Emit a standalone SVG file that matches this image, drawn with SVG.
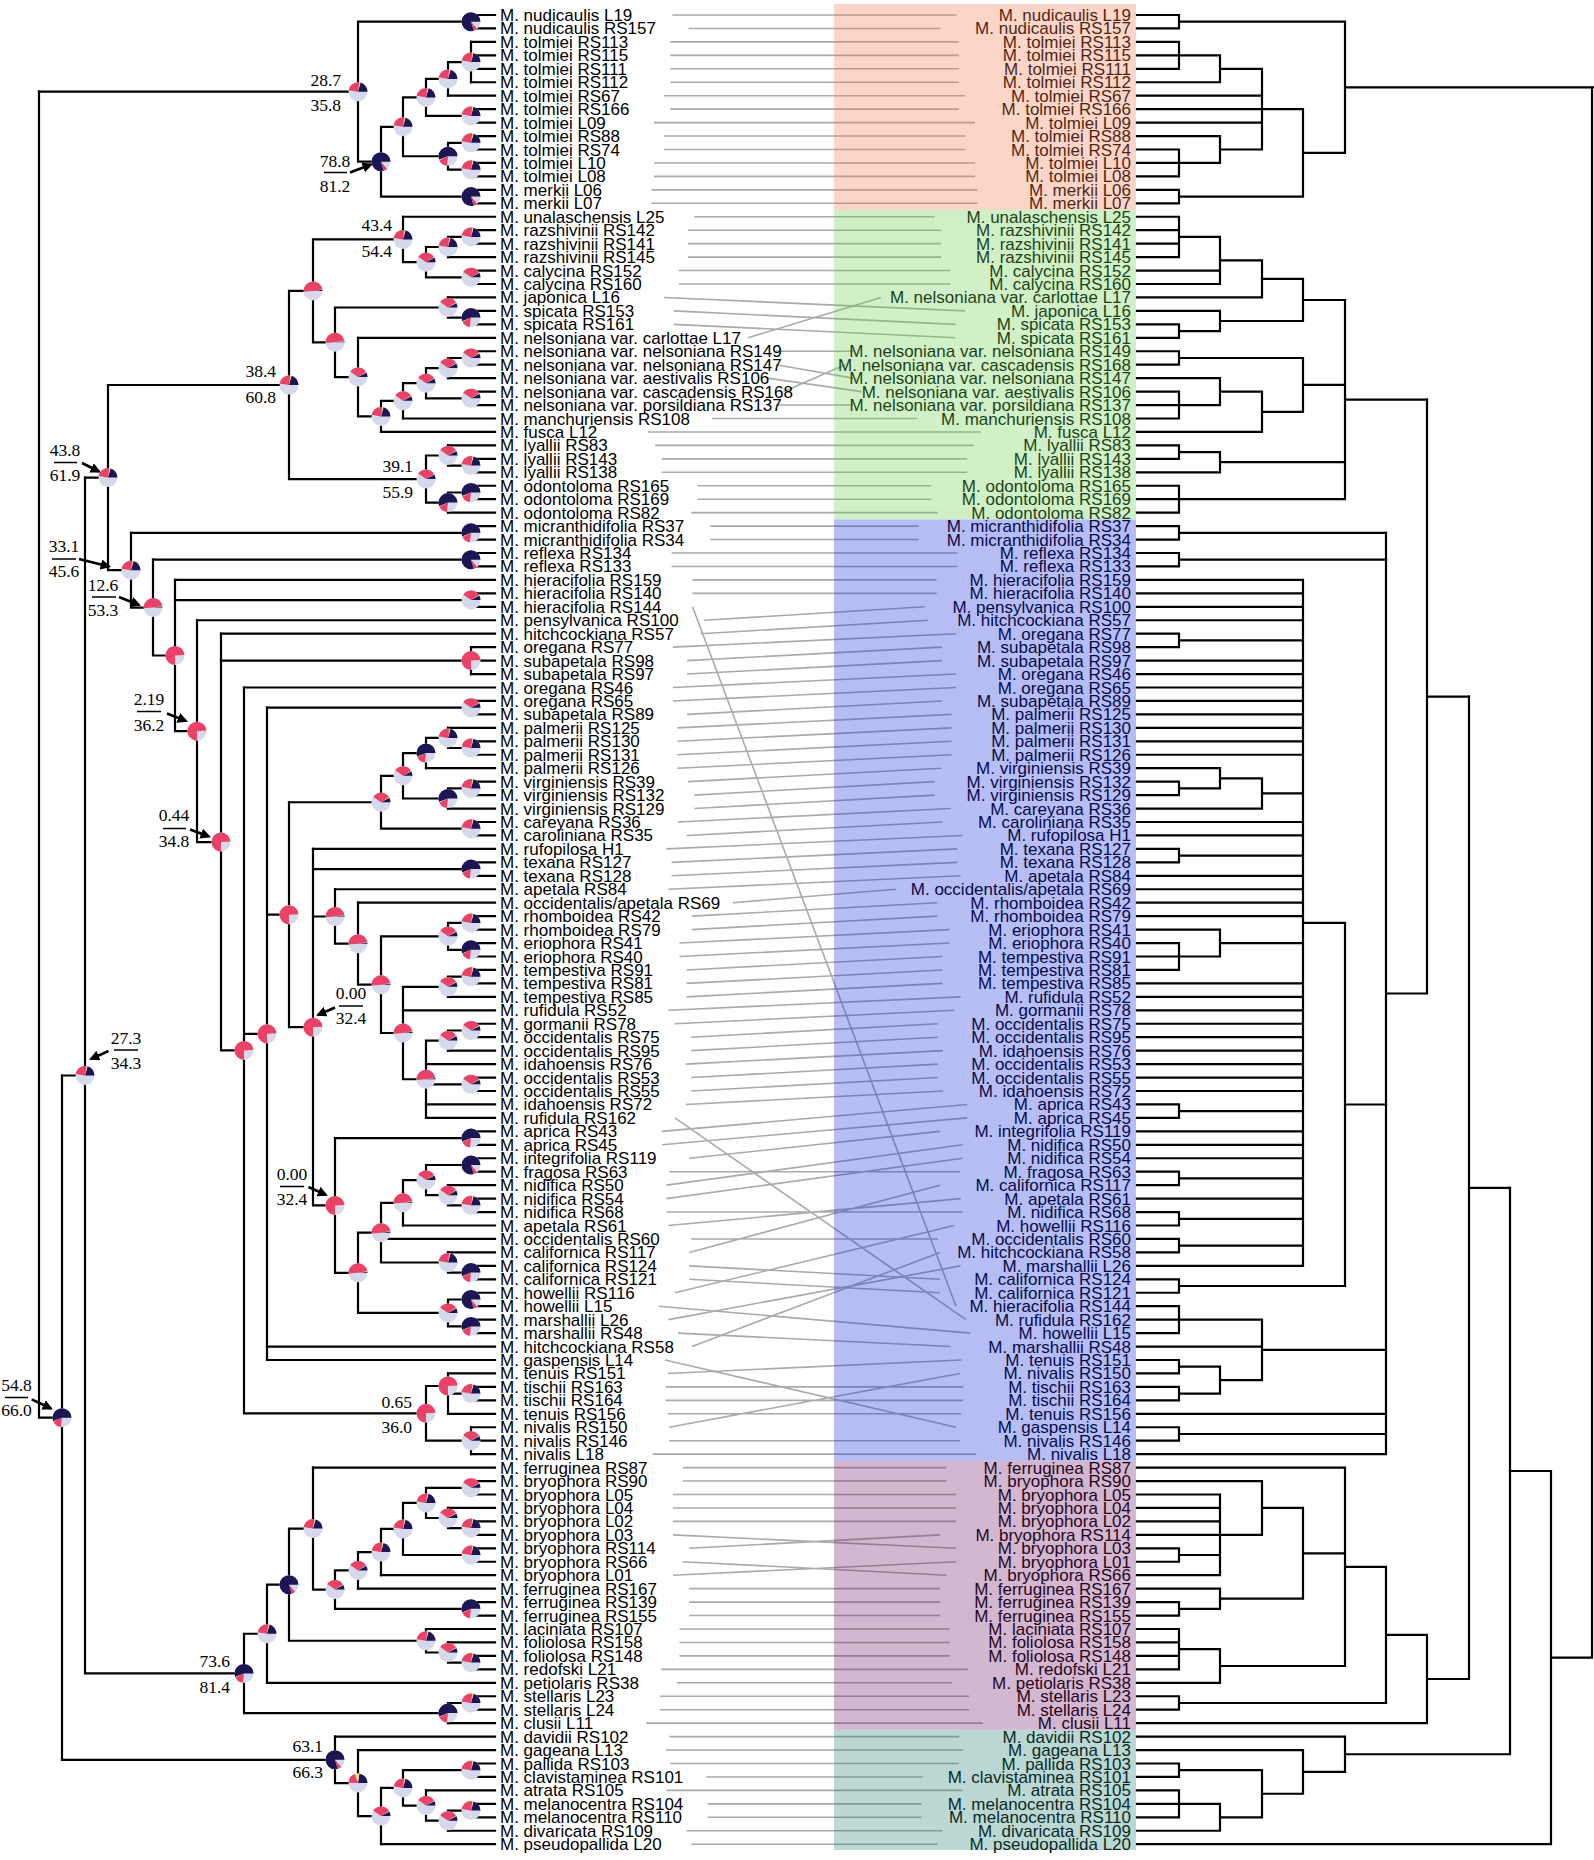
<svg xmlns="http://www.w3.org/2000/svg" width="1594" height="1860" viewBox="0 0 1594 1860">
<style>
.lb text{font-family:'Liberation Sans',Arial,sans-serif;font-size:17px;fill:#000}
.rl text{text-anchor:end}
.nm text{font-family:'Liberation Serif','Times New Roman',serif;font-size:17.5px;fill:#000}
.nc{text-anchor:middle}
.ne{text-anchor:end}
.br{fill:none;stroke:#000;stroke-width:2.2;stroke-linecap:square}
.cn{fill:none;stroke:#aaa;stroke-width:1.6}
.ar{fill:none;stroke:#000;stroke-width:2.6}
.bar{stroke:#000;stroke-width:1.3}
.lv{fill:#d6d9eb}
.sn{fill:none;stroke:#1d1654;stroke-width:9.5}
.sy{fill:none;stroke:#efe07a;stroke-width:9.5}
.sp{fill:none;stroke:#ea4167;stroke-width:9.5}
</style>
<defs>
<marker id="ah" viewBox="0 0 10 10" refX="8" refY="5" markerWidth="4" markerHeight="4" orient="auto"><path d="M0 0L10 5L0 10z" fill="#000"/></marker>
<g id="pN"><circle r="9.5" class="lv"/><g transform="scale(1,-1)"><circle r="4.75" class="sn" stroke-dasharray="23.28 30"/><circle r="4.75" class="sp" stroke-dasharray="0 23.28 1.79 30"/></g></g>
<g id="pN2"><circle r="9.5" class="lv"/><g transform="scale(1,-1)"><circle r="4.75" class="sn" stroke-dasharray="16.41 30"/><circle r="4.75" class="sy" stroke-dasharray="0 16.41 0.3 30"/><circle r="4.75" class="sp" stroke-dasharray="0 16.71 4.48 30"/></g></g>
<g id="pM"><circle r="9.5" class="lv"/><g transform="scale(1,-1)"><circle r="4.75" class="sn" stroke-dasharray="5.97 30"/><circle r="4.75" class="sy" stroke-dasharray="0 5.97 0.6 30"/><circle r="4.75" class="sp" stroke-dasharray="0 6.57 7.16 30"/></g></g>
<g id="pL"><circle r="9.5" class="lv"/><g transform="scale(1,-1)"><circle r="4.75" class="sn" stroke-dasharray="2.39 30"/><circle r="4.75" class="sy" stroke-dasharray="0 2.39 0.3 30"/><circle r="4.75" class="sp" stroke-dasharray="0 2.69 8.95 30"/></g></g>
<g id="pP"><circle r="9.5" class="lv"/><g transform="scale(1,-1)"><circle r="4.75" class="sn" stroke-dasharray="0.6 30"/><circle r="4.75" class="sy" stroke-dasharray="0 0.6 0.3 30"/><circle r="4.75" class="sp" stroke-dasharray="0 0.9 14.03 30"/></g></g>
<g id="pPP"><circle r="9.5" class="lv"/><g transform="scale(1,-1)"><circle r="4.75" class="sy" stroke-dasharray="0.3 30"/><circle r="4.75" class="sp" stroke-dasharray="0 0.3 21.49 30"/></g></g>
<g id="pMy"><circle r="9.5" class="lv"/><g transform="scale(1,-1)"><circle r="4.75" class="sn" stroke-dasharray="6.57 30"/><circle r="4.75" class="sy" stroke-dasharray="0 6.57 2.39 30"/><circle r="4.75" class="sp" stroke-dasharray="0 8.96 5.37 30"/></g></g>
</defs>
<rect width="1594" height="1860" fill="#fff"/>

<g id="connectors" class="cn">
<path d="M672.3 15L956.7 15M688.6 28.45L940.4 28.45M670.3 41.9L958.7 41.9M670.3 55.35L958.7 55.35M670.3 68.8L958.7 68.8M670.3 82.25L958.7 82.25M663.8 95.7L965.2 95.7M670.3 109.15L958.7 109.15M654 122.6L975 122.6M663.8 136.05L965.2 136.05M663.8 149.5L965.2 149.5M654 162.95L975 162.95M654 176.4L975 176.4M651.4 189.85L977.6 189.85M651.4 203.3L977.6 203.3M694.4 216.75L934.6 216.75M687.9 230.2L941.1 230.2M687.9 243.65L941.1 243.65M687.9 257.1L941.1 257.1M678.8 270.55L950.2 270.55M678.8 284L950.2 284M663.8 297.45L965.2 310.9M673.6 310.9L955.4 324.35M673.6 324.35L955.4 337.8M747.9 337.8L881.1 297.45M775.9 351.25L853.1 351.25M775.9 364.7L853.1 378.15M767.4 378.15L861.6 391.6M783.7 391.6L845.3 364.7M775.9 405.05L853.1 405.05M712 418.5L917 418.5M648.1 431.95L980.9 431.95M655.3 445.4L973.7 445.4M661.8 458.85L967.2 458.85M661.8 472.3L967.2 472.3M697.7 485.75L931.3 485.75M697.7 499.2L931.3 499.2M691.2 512.65L937.8 512.65"/>
<path d="M710.4 526.1L918.6 526.1M710.4 539.55L918.6 539.55M671.6 553L957.4 553M671.6 566.45L957.4 566.45M692.5 579.9L936.5 579.9M692.5 593.35L936.5 593.35M692.5 606.8L956 1306.2M704.2 620.25L924.8 606.8M700.9 633.7L928.1 620.25M672.9 647.15L956.1 633.7M687.1 660.6L941.9 647.15M687.1 674.05L941.9 660.6M672.9 687.5L956.1 674.05M672.9 700.95L956.1 687.5M687.1 714.4L941.9 700.95M677.5 727.85L951.5 714.4M677.5 741.3L951.5 727.85M677.5 754.75L951.5 741.3M677.5 768.2L951.5 754.75M687.9 781.65L941.1 768.2M694.4 795.1L934.6 781.65M694.4 808.55L934.6 795.1M678.2 822L950.8 808.55M686.6 835.45L942.4 822M666.4 848.9L962.6 835.45M671.6 862.35L957.4 848.9M671.6 875.8L957.4 862.35M668.4 889.25L960.6 875.8M732.9 902.7L896.1 889.25M691.8 916.15L937.2 902.7M691.8 929.6L937.2 916.15M679.5 943.05L949.5 929.6M679.5 956.5L949.5 943.05M686.6 969.95L942.4 956.5M686.6 983.4L942.4 969.95M686.6 996.85L942.4 983.4M668.4 1010.3L960.6 996.85M674.8 1023.75L954.2 1010.3M691.2 1037.2L937.8 1023.75M691.2 1050.65L937.8 1037.2M685.9 1064.1L943 1050.65M691.2 1077.55L937.8 1064.1M691.2 1091L937.8 1077.55M685.9 1104.45L943 1091M674.9 1117.9L966 1319.65M661.8 1131.35L967.2 1104.45M661.8 1144.8L967.2 1117.9M689.2 1158.25L939.8 1131.35M669 1171.7L960 1171.7M666.4 1185.15L962.6 1144.8M666.4 1198.6L962.6 1158.25M666.4 1212.05L962.6 1212.05M668.4 1225.5L960.6 1198.6M691.2 1238.95L937.8 1238.95M689.2 1252.4L939.8 1185.15M689.2 1265.85L939.8 1279.3M689.2 1279.3L939.8 1292.75M674.8 1292.75L954.2 1225.5M658.6 1306.2L970.4 1333.1M668.5 1319.65L960.5 1265.85M678.2 1333.1L950.8 1346.55M692 1346.55L940 1252.4M665 1360L956.1 1427.25M667.7 1373.45L961.3 1360M665.7 1386.9L963.3 1386.9M665.7 1400.35L963.3 1400.35M667.7 1413.8L961.3 1413.8M669 1427.25L960 1373.45M669 1440.7L960 1440.7M652.7 1454.15L976.3 1454.15"/>
<path d="M682.7 1467.6L946.3 1467.6M682.7 1481.05L946.3 1481.05M672.9 1494.5L956.1 1494.5M672.9 1507.95L956.1 1507.95M672.9 1521.4L956.1 1521.4M672.9 1534.85L956.1 1548.3M689.2 1548.3L939.8 1534.85M682.7 1561.75L946.3 1575.2M672.9 1575.2L956.1 1561.75M689.2 1588.65L939.8 1588.65M689.2 1602.1L939.8 1602.1M689.2 1615.55L939.8 1615.55M679.5 1629L949.5 1629M679.5 1642.45L949.5 1642.45M679.5 1655.9L949.5 1655.9M661.2 1669.35L967.8 1669.35M676.8 1682.8L952.2 1682.8M659.9 1696.25L969.1 1696.25M659.9 1709.7L969.1 1709.7M646.2 1723.15L982.8 1723.15M669.7 1736.6L959.3 1736.6M665.8 1750.05L963.2 1750.05M670.3 1763.5L958.7 1763.5M706.3 1776.95L922.7 1776.95M666.4 1790.4L962.6 1790.4M707.5 1803.85L921.5 1803.85M707.5 1817.3L921.5 1817.3M686.6 1830.75L942.4 1830.75M691.2 1844.2L937.8 1844.2"/>
</g>

<g id="left-tree-branches" class="br">
<path d="M471 15H495M471 28.45H495M471 41.9H495M471 55.35H495M471 68.8H495M471 82.25H495M448 95.7H495M471 109.15H495M471 122.6H495M471 136.05H495M471 149.5H495M471 162.95H495M471 176.4H495M471 189.85H495M471 203.3H495M403 216.75H495M471 230.2H495M471 243.65H495M448 257.1H495M471 270.55H495M471 284H495M448 297.45H495M471 310.9H495M471 324.35H495M358 337.8H495M471 351.25H495M471 364.7H495M448 378.15H495M471 391.6H495M471 405.05H495M403 418.5H495M381 431.95H495M448 445.4H495M471 458.85H495M471 472.3H495M471 485.75H495M471 499.2H495M448 512.65H495M471 526.1H495M471 539.55H495M471 553H495M471 566.45H495M175 579.9H495M471 593.35H495M471 606.8H495M197 620.25H495M221 633.7H495M471 647.15H495M471 660.6H495M471 674.05H495M244 687.5H495M471 700.95H495M471 714.4H495M448 727.85H495M471 741.3H495M471 754.75H495M426 768.2H495M471 781.65H495M471 795.1H495M448 808.55H495M471 822H495M471 835.45H495M313 848.9H495M471 862.35H495M471 875.8H495M335 889.25H495M358 902.7H495M471 916.15H495M471 929.6H495M471 943.05H495M471 956.5H495M471 969.95H495M471 983.4H495M448 996.85H495M403 1010.3H495M471 1023.75H495M471 1037.2H495M448 1050.65H495M426 1064.1H495M471 1077.55H495M471 1091H495M426 1104.45H495M426 1117.9H495M471 1131.35H495M471 1144.8H495M471 1158.25H495M471 1171.7H495M448 1185.15H495M471 1198.6H495M471 1212.05H495M403 1225.5H495M381 1238.95H495M448 1252.4H495M471 1265.85H495M471 1279.3H495M471 1292.75H495M471 1306.2H495M471 1319.65H495M471 1333.1H495M267 1346.55H495M267 1360H495M448 1373.45H495M471 1386.9H495M471 1400.35H495M448 1413.8H495M471 1427.25H495M471 1440.7H495M471 1454.15H495M313 1467.6H495M471 1481.05H495M471 1494.5H495M448 1507.95H495M471 1521.4H495M471 1534.85H495M471 1548.3H495M471 1561.75H495M381 1575.2H495M358 1588.65H495M471 1602.1H495M471 1615.55H495M426 1629H495M448 1642.45H495M471 1655.9H495M471 1669.35H495M267 1682.8H495M471 1696.25H495M471 1709.7H495M448 1723.15H495M335 1736.6H495M358 1750.05H495M471 1763.5H495M471 1776.95H495M426 1790.4H495M471 1803.85H495M471 1817.3H495M448 1830.75H495M381 1844.2H495"/>
<path d="M471 15V28.45M358 21.7H471M471 41.9V82.25M448 62.1H471M448 62.1V95.7M426 78.9H448M471 109.15V122.6M426 115.9H471M426 78.9V115.9M403 97.4H426M471 136.05V149.5M448 142.8H471M471 162.95V176.4M448 169.7H471M448 142.8V169.7M403 156.25H448M403 97.4V156.25M381 126.8H403M471 189.85V203.3M381 196.6H471M381 126.8V196.6M358 161.7H381M358 21.7V161.7M39 91.7H358"/>
<path d="M471 230.2V243.65M448 236.9H471M448 236.9V257.1M426 247H448M471 270.55V284M426 277.3H471M426 247V277.3M403 262.15H426M403 216.75V262.15M313 239.45H403M471 310.9V324.35M448 317.6H471M448 297.45V317.6M335 307.5H448M471 351.25V364.7M448 358H471M448 358V378.15M426 368.1H448M471 391.6V405.05M426 398.3H471M426 368.1V398.3M403 383.2H426M403 383.2V418.5M381 400.85H403M381 400.85V431.95M358 416.4H381M358 337.8V416.4M335 377.1H358M335 307.5V377.1M313 342.3H335M313 239.45V342.3M289 290.9H313M471 458.85V472.3M448 465.6H471M448 445.4V465.6M426 455.5H448M471 485.75V499.2M448 492.5H471M448 492.5V512.65M426 502.6H448M426 455.5V502.6M289 479.05H426M289 290.9V479.05M108 385H289"/>
<path d="M471 526.1V539.55M131 532.8H471M471 553V566.45M153 559.7H471M471 593.35V606.8M175 600.1H471M471 647.15V674.05M221 660.6H471M471 700.95V714.4M267 707.7H471M471 741.3V754.75M448 748H471M448 727.85V748M426 737.9H448M426 737.9V768.2M403 753.05H426M471 781.65V795.1M448 788.4H471M448 788.4V808.55M403 798.5H448M403 753.05V798.5M381 775.8H403M471 822V835.45M381 828.7H471M381 775.8V828.7M289 802.25H381M471 862.35V875.8M313 869.1H471M471 916.15V929.6M448 922.9H471M471 943.05V956.5M448 949.8H471M448 922.9V949.8M381 936.35H448M471 969.95V983.4M448 976.7H471M448 976.7V996.85M403 986.8H448M471 1023.75V1037.2M448 1030.5H471M448 1030.5V1050.65M426 1040.6H448M471 1077.55V1091M426 1084.3H471M426 1040.6V1117.9M403 1079.25H426M403 986.8V1079.25M381 1033H403M381 936.35V1033M358 984.7H381M358 902.7V984.7M335 943.7H358M335 889.25V943.7M313 916.5H335"/>
<path d="M471 1131.35V1144.8M335 1138.1H471M471 1158.25V1171.7M426 1165H471M471 1198.6V1212.05M448 1205.3H471M448 1185.15V1205.3M426 1195.2H448M426 1165V1195.2M403 1180.1H426M403 1180.1V1225.5M381 1202.8H403M471 1265.85V1279.3M448 1272.6H471M448 1252.4V1272.6M381 1262.5H448M381 1202.8V1262.5M358 1232.65H381M471 1292.75V1306.2M448 1299.5H471M471 1319.65V1333.1M448 1326.4H471M448 1299.5V1326.4M358 1312.95H448M358 1232.65V1312.95M335 1272.8H358M335 1138.1V1272.8M313 1205.45H335M313 848.9V1205.45M289 1027.2H313M289 802.25V1027.2M267 914.7H289M471 1386.9V1400.35M448 1393.6H471M448 1373.45V1413.8M426 1386H448M471 1427.25V1454.15M426 1440.7H471M426 1386V1440.7M244 1413.35H426M267 707.7V1360M244 1033.85H267M244 687.5V1413.35M221 1050.4H244M221 633.7V1050.4M197 842.05H221M197 620.25V842.05M175 731.15H197M175 579.9V731.15M153 655.5H175M153 559.7V655.5M131 607.6H153M131 532.8V607.6M108 570.2H131M108 385V570.2M85 477.6H108"/>
<path d="M471 1481.05V1494.5M426 1487.8H471M471 1521.4V1534.85M448 1528.1H471M448 1507.95V1528.1M426 1518H448M426 1487.8V1518M403 1502.9H426M471 1548.3V1561.75M403 1555H471M403 1502.9V1555M381 1528.95H403M381 1528.95V1575.2M358 1552.1H381M358 1552.1V1588.65M335 1570.4H358M471 1602.1V1615.55M335 1608.8H471M335 1570.4V1608.8M313 1589.6H335M313 1467.6V1589.6M289 1528.6H313M471 1655.9V1669.35M448 1662.6H471M448 1642.45V1662.6M426 1652.5H448M426 1629V1652.5M289 1640.75H426M289 1528.6V1640.75M267 1584.7H289M267 1584.7V1682.8M244 1633.75H267M471 1696.25V1709.7M448 1703H471M448 1703V1723.15M244 1713.1H448M244 1633.75V1713.1M85 1673.4H244M85 477.6V1673.4M62 1075.5H85"/>
<path d="M471 1763.5V1776.95M403 1770.2H471M471 1803.85V1817.3M448 1810.6H471M448 1810.6V1830.75M426 1820.7H448M426 1790.4V1820.7M403 1805.55H426M403 1770.2V1805.55M381 1787.9H403M381 1787.9V1844.2M358 1816.05H381M358 1750.05V1816.05M335 1783.05H358M335 1736.6V1783.05M62 1759.8H335M62 1075.5V1759.8M39 1417.65H62M39 91.7V1417.65"/>
</g>

<g id="left-tree-nodes">
<use id="S1" href="#pN" x="471" y="21.7"/><use id="S2" href="#pM" x="471" y="62.1"/><use id="S3" href="#pM" x="448" y="78.9"/><use id="S4" href="#pM" x="471" y="115.9"/><use id="S5" href="#pM" x="426" y="97.4"/><use id="S6" href="#pM" x="471" y="142.8"/><use id="S7" href="#pM" x="471" y="169.7"/><use id="S8" href="#pN2" x="448" y="156.25"/><use id="S9" href="#pM" x="403" y="126.8"/><use id="S10" href="#pN" x="471" y="196.6"/><use id="S11" href="#pN" x="381" y="161.7"/><use id="S12" href="#pM" x="358" y="91.7"/>
<use id="G1" href="#pM" x="471" y="236.9"/><use id="G2" href="#pM" x="448" y="247"/><use id="G3" href="#pL" x="471" y="277.3"/><use id="G4" href="#pL" x="426" y="262.15"/><use id="G5" href="#pM" x="403" y="239.45"/><use id="G6" href="#pN2" x="471" y="317.6"/><use id="G7" href="#pL" x="448" y="307.5"/><use id="G8" href="#pL" x="471" y="358"/><use id="G9" href="#pL" x="448" y="368.1"/><use id="G10" href="#pL" x="471" y="398.3"/><use id="G11" href="#pL" x="426" y="383.2"/><use id="G12" href="#pL" x="403" y="400.85"/><use id="G13" href="#pM" x="381" y="416.4"/><use id="G14" href="#pL" x="358" y="377.1"/><use id="G15" href="#pP" x="335" y="342.3"/><use id="G16" href="#pP" x="313" y="290.9"/><use id="G17" href="#pM" x="471" y="465.6"/><use id="G18" href="#pL" x="448" y="455.5"/><use id="G19" href="#pN2" x="471" y="492.5"/><use id="G20" href="#pN2" x="448" y="502.6"/><use id="G21" href="#pL" x="426" y="479.05"/><use id="G22" href="#pM" x="289" y="385"/>
<use id="B1" href="#pN2" x="471" y="532.8"/><use id="B2" href="#pN" x="471" y="559.7"/><use id="B3" href="#pL" x="471" y="600.1"/><use id="B4" href="#pPP" x="471" y="660.6"/><use id="B5" href="#pL" x="471" y="707.7"/><use id="B6" href="#pM" x="471" y="748"/><use id="B7" href="#pM" x="448" y="737.9"/><use id="B8" href="#pN2" x="426" y="753.05"/><use id="B9" href="#pM" x="471" y="788.4"/><use id="B10" href="#pN2" x="448" y="798.5"/><use id="B11" href="#pL" x="403" y="775.8"/><use id="B12" href="#pM" x="471" y="828.7"/><use id="B13" href="#pL" x="381" y="802.25"/><use id="B14" href="#pN2" x="471" y="869.1"/><use id="B15" href="#pM" x="471" y="922.9"/><use id="B16" href="#pN2" x="471" y="949.8"/><use id="B17" href="#pL" x="448" y="936.35"/><use id="B18" href="#pM" x="471" y="976.7"/><use id="B19" href="#pL" x="448" y="986.8"/><use id="B20" href="#pL" x="471" y="1030.5"/><use id="B21" href="#pL" x="448" y="1040.6"/><use id="B22" href="#pL" x="471" y="1084.3"/><use id="B23" href="#pP" x="426" y="1079.25"/><use id="B24" href="#pP" x="403" y="1033"/><use id="B25" href="#pP" x="381" y="984.7"/><use id="B26" href="#pP" x="358" y="943.7"/><use id="B27" href="#pP" x="335" y="916.5"/>
<use id="B28" href="#pN2" x="471" y="1138.1"/><use id="B29" href="#pN" x="471" y="1165"/><use id="B30" href="#pM" x="471" y="1205.3"/><use id="B31" href="#pL" x="448" y="1195.2"/><use id="B32" href="#pL" x="426" y="1180.1"/><use id="B33" href="#pP" x="403" y="1202.8"/><use id="B34" href="#pN2" x="471" y="1272.6"/><use id="B35" href="#pM" x="448" y="1262.5"/><use id="B36" href="#pP" x="381" y="1232.65"/><use id="B37" href="#pN" x="471" y="1299.5"/><use id="B38" href="#pN2" x="471" y="1326.4"/><use id="B39" href="#pL" x="448" y="1312.95"/><use id="B40" href="#pP" x="358" y="1272.8"/><use id="B41" href="#pPP" x="335" y="1205.45"/><use id="B42" href="#pPP" x="313" y="1027.2"/><use id="B43" href="#pPP" x="289" y="914.7"/><use id="B44" href="#pM" x="471" y="1393.6"/><use id="B45" href="#pPP" x="448" y="1386"/><use id="B46" href="#pL" x="471" y="1440.7"/><use id="B47" href="#pPP" x="426" y="1413.35"/><use id="B48" href="#pPP" x="267" y="1033.85"/><use id="B49" href="#pPP" x="244" y="1050.4"/><use id="B50" href="#pPP" x="221" y="842.05"/><use id="B51" href="#pPP" x="197" y="731.15"/><use id="B52" href="#pPP" x="175" y="655.5"/><use id="B53" href="#pP" x="153" y="607.6"/><use id="B54" href="#pM" x="131" y="570.2"/><use id="B55" href="#pM" x="108" y="477.6"/>
<use id="M1" href="#pL" x="471" y="1487.8"/><use id="M2" href="#pM" x="471" y="1528.1"/><use id="M3" href="#pL" x="448" y="1518"/><use id="M4" href="#pM" x="426" y="1502.9"/><use id="M5" href="#pM" x="471" y="1555"/><use id="M6" href="#pM" x="403" y="1528.95"/><use id="M7" href="#pM" x="381" y="1552.1"/><use id="M8" href="#pL" x="358" y="1570.4"/><use id="M9" href="#pN2" x="471" y="1608.8"/><use id="M10" href="#pL" x="335" y="1589.6"/><use id="M11" href="#pM" x="313" y="1528.6"/><use id="M12" href="#pM" x="471" y="1662.6"/><use id="M13" href="#pL" x="448" y="1652.5"/><use id="M14" href="#pM" x="426" y="1640.75"/><use id="M15" href="#pN" x="289" y="1584.7"/><use id="M16" href="#pM" x="267" y="1633.75"/><use id="M17" href="#pM" x="471" y="1703"/><use id="M18" href="#pN2" x="448" y="1713.1"/><use id="M19" href="#pN2" x="244" y="1673.4"/>
<use id="T" href="#pM" x="85" y="1075.5"/>
<use id="E1" href="#pM" x="471" y="1770.2"/><use id="E2" href="#pM" x="471" y="1810.6"/><use id="E3" href="#pL" x="448" y="1820.7"/><use id="E4" href="#pL" x="426" y="1805.55"/><use id="E5" href="#pM" x="403" y="1787.9"/><use id="E6" href="#pL" x="381" y="1816.05"/><use id="E7" href="#pMy" x="358" y="1783.05"/><use id="E8" href="#pN" x="335" y="1759.8"/>
<use id="F" href="#pN2" x="62" y="1417.65"/>
</g>

<g id="node-values" class="nm">
<text class="ne" x="341" y="86">28.7</text><text class="ne" x="341" y="111">35.8</text>
<text class="ne" x="392" y="231">43.4</text><text class="ne" x="392" y="256.7">54.4</text>
<text class="ne" x="276" y="376.7">38.4</text><text class="ne" x="276" y="403">60.8</text>
<text class="ne" x="413" y="472.3">39.1</text><text class="ne" x="413" y="497.7">55.9</text>
<text class="ne" x="412" y="1407.5">0.65</text><text class="ne" x="412" y="1433">36.0</text>
<text class="ne" x="230" y="1667.3">73.6</text><text class="ne" x="230" y="1693.3">81.4</text>
<text class="ne" x="323" y="1751.7">63.1</text><text class="ne" x="323" y="1777.7">66.3</text>
<text class="nc" x="335" y="167">78.8</text><text class="nc" x="335" y="191.5">81.2</text>
<text class="nc" x="65" y="456">43.8</text><text class="nc" x="65" y="481">61.9</text>
<text class="nc" x="64" y="552">33.1</text><text class="nc" x="64" y="577">45.6</text>
<text class="nc" x="103" y="591">12.6</text><text class="nc" x="103" y="616">53.3</text>
<text class="nc" x="149" y="705">2.19</text><text class="nc" x="149" y="730.5">36.2</text>
<text class="nc" x="174" y="821">0.44</text><text class="nc" x="174" y="846.5">34.8</text>
<text class="nc" x="351" y="999">0.00</text><text class="nc" x="351" y="1024">32.4</text>
<text class="nc" x="292" y="1180">0.00</text><text class="nc" x="292" y="1205">32.4</text>
<text class="nc" x="126" y="1043.5">27.3</text><text class="nc" x="126" y="1068.5">34.3</text>
<text class="nc" x="16.5" y="1391">54.8</text><text class="nc" x="16.5" y="1416">66.0</text>
</g>
<g id="value-bars" class="bar">
<path d="M324 172.5H347M54 462.5H77M52 559H76M92 597H116M137 711.5H161M163 828.5H186M339 1006H363M280 1186.5H304M114 1050H138M5 1397.5H28"/>
</g>
<g id="value-arrows" class="ar" marker-end="url(#ah)">
<path d="M350 172.5L371 164.5"/>
<path d="M82 463L99 471.5"/>
<path d="M79 559L109 566.5"/>
<path d="M119 597L139 605"/>
<path d="M167 713.5L186 721"/>
<path d="M190 829.5L209 836.5"/>
<path d="M335 1007.5L318 1015"/>
<path d="M308.5 1187L326 1195"/>
<path d="M108.5 1051L91 1059"/>
<path d="M31.7 1399.3L51 1408.5"/>
</g>

<g id="left-labels" class="lb">
<text x="500" y="21">M. nudicaulis L19</text>
<text x="500" y="34.45">M. nudicaulis RS157</text>
<text x="500" y="47.9">M. tolmiei RS113</text>
<text x="500" y="61.35">M. tolmiei RS115</text>
<text x="500" y="74.8">M. tolmiei RS111</text>
<text x="500" y="88.25">M. tolmiei RS112</text>
<text x="500" y="101.7">M. tolmiei RS67</text>
<text x="500" y="115.15">M. tolmiei RS166</text>
<text x="500" y="128.6">M. tolmiei L09</text>
<text x="500" y="142.05">M. tolmiei RS88</text>
<text x="500" y="155.5">M. tolmiei RS74</text>
<text x="500" y="168.95">M. tolmiei L10</text>
<text x="500" y="182.4">M. tolmiei L08</text>
<text x="500" y="195.85">M. merkii L06</text>
<text x="500" y="209.3">M. merkii L07</text>
<text x="500" y="222.75">M. unalaschensis L25</text>
<text x="500" y="236.2">M. razshivinii RS142</text>
<text x="500" y="249.65">M. razshivinii RS141</text>
<text x="500" y="263.1">M. razshivinii RS145</text>
<text x="500" y="276.55">M. calycina RS152</text>
<text x="500" y="290">M. calycina RS160</text>
<text x="500" y="303.45">M. japonica L16</text>
<text x="500" y="316.9">M. spicata RS153</text>
<text x="500" y="330.35">M. spicata RS161</text>
<text x="500" y="343.8">M. nelsoniana var. carlottae L17</text>
<text x="500" y="357.25">M. nelsoniana var. nelsoniana RS149</text>
<text x="500" y="370.7">M. nelsoniana var. nelsoniana RS147</text>
<text x="500" y="384.15">M. nelsoniana var. aestivalis RS106</text>
<text x="500" y="397.6">M. nelsoniana var. cascadensis RS168</text>
<text x="500" y="411.05">M. nelsoniana var. porsildiana RS137</text>
<text x="500" y="424.5">M. manchuriensis RS108</text>
<text x="500" y="437.95">M. fusca L12</text>
<text x="500" y="451.4">M. lyallii RS83</text>
<text x="500" y="464.85">M. lyallii RS143</text>
<text x="500" y="478.3">M. lyallii RS138</text>
<text x="500" y="491.75">M. odontoloma RS165</text>
<text x="500" y="505.2">M. odontoloma RS169</text>
<text x="500" y="518.65">M. odontoloma RS82</text>
<text x="500" y="532.1">M. micranthidifolia RS37</text>
<text x="500" y="545.55">M. micranthidifolia RS34</text>
<text x="500" y="559">M. reflexa RS134</text>
<text x="500" y="572.45">M. reflexa RS133</text>
<text x="500" y="585.9">M. hieracifolia RS159</text>
<text x="500" y="599.35">M. hieracifolia RS140</text>
<text x="500" y="612.8">M. hieracifolia RS144</text>
<text x="500" y="626.25">M. pensylvanica RS100</text>
<text x="500" y="639.7">M. hitchcockiana RS57</text>
<text x="500" y="653.15">M. oregana RS77</text>
<text x="500" y="666.6">M. subapetala RS98</text>
<text x="500" y="680.05">M. subapetala RS97</text>
<text x="500" y="693.5">M. oregana RS46</text>
<text x="500" y="706.95">M. oregana RS65</text>
<text x="500" y="720.4">M. subapetala RS89</text>
<text x="500" y="733.85">M. palmerii RS125</text>
<text x="500" y="747.3">M. palmerii RS130</text>
<text x="500" y="760.75">M. palmerii RS131</text>
<text x="500" y="774.2">M. palmerii RS126</text>
<text x="500" y="787.65">M. virginiensis RS39</text>
<text x="500" y="801.1">M. virginiensis RS132</text>
<text x="500" y="814.55">M. virginiensis RS129</text>
<text x="500" y="828">M. careyana RS36</text>
<text x="500" y="841.45">M. caroliniana RS35</text>
<text x="500" y="854.9">M. rufopilosa H1</text>
<text x="500" y="868.35">M. texana RS127</text>
<text x="500" y="881.8">M. texana RS128</text>
<text x="500" y="895.25">M. apetala RS84</text>
<text x="500" y="908.7">M. occidentalis/apetala RS69</text>
<text x="500" y="922.15">M. rhomboidea RS42</text>
<text x="500" y="935.6">M. rhomboidea RS79</text>
<text x="500" y="949.05">M. eriophora RS41</text>
<text x="500" y="962.5">M. eriophora RS40</text>
<text x="500" y="975.95">M. tempestiva RS91</text>
<text x="500" y="989.4">M. tempestiva RS81</text>
<text x="500" y="1002.85">M. tempestiva RS85</text>
<text x="500" y="1016.3">M. rufidula RS52</text>
<text x="500" y="1029.75">M. gormanii RS78</text>
<text x="500" y="1043.2">M. occidentalis RS75</text>
<text x="500" y="1056.65">M. occidentalis RS95</text>
<text x="500" y="1070.1">M. idahoensis RS76</text>
<text x="500" y="1083.55">M. occidentalis RS53</text>
<text x="500" y="1097">M. occidentalis RS55</text>
<text x="500" y="1110.45">M. idahoensis RS72</text>
<text x="500" y="1123.9">M. rufidula RS162</text>
<text x="500" y="1137.35">M. aprica RS43</text>
<text x="500" y="1150.8">M. aprica RS45</text>
<text x="500" y="1164.25">M. integrifolia RS119</text>
<text x="500" y="1177.7">M. fragosa RS63</text>
<text x="500" y="1191.15">M. nidifica RS50</text>
<text x="500" y="1204.6">M. nidifica RS54</text>
<text x="500" y="1218.05">M. nidifica RS68</text>
<text x="500" y="1231.5">M. apetala RS61</text>
<text x="500" y="1244.95">M. occidentalis RS60</text>
<text x="500" y="1258.4">M. californica RS117</text>
<text x="500" y="1271.85">M. californica RS124</text>
<text x="500" y="1285.3">M. californica RS121</text>
<text x="500" y="1298.75">M. howellii RS116</text>
<text x="500" y="1312.2">M. howellii L15</text>
<text x="500" y="1325.65">M. marshallii L26</text>
<text x="500" y="1339.1">M. marshallii RS48</text>
<text x="500" y="1352.55">M. hitchcockiana RS58</text>
<text x="500" y="1366">M. gaspensis L14</text>
<text x="500" y="1379.45">M. tenuis RS151</text>
<text x="500" y="1392.9">M. tischii RS163</text>
<text x="500" y="1406.35">M. tischii RS164</text>
<text x="500" y="1419.8">M. tenuis RS156</text>
<text x="500" y="1433.25">M. nivalis RS150</text>
<text x="500" y="1446.7">M. nivalis RS146</text>
<text x="500" y="1460.15">M. nivalis L18</text>
<text x="500" y="1473.6">M. ferruginea RS87</text>
<text x="500" y="1487.05">M. bryophora RS90</text>
<text x="500" y="1500.5">M. bryophora L05</text>
<text x="500" y="1513.95">M. bryophora L04</text>
<text x="500" y="1527.4">M. bryophora L02</text>
<text x="500" y="1540.85">M. bryophora L03</text>
<text x="500" y="1554.3">M. bryophora RS114</text>
<text x="500" y="1567.75">M. bryophora RS66</text>
<text x="500" y="1581.2">M. bryophora L01</text>
<text x="500" y="1594.65">M. ferruginea RS167</text>
<text x="500" y="1608.1">M. ferruginea RS139</text>
<text x="500" y="1621.55">M. ferruginea RS155</text>
<text x="500" y="1635">M. laciniata RS107</text>
<text x="500" y="1648.45">M. foliolosa RS158</text>
<text x="500" y="1661.9">M. foliolosa RS148</text>
<text x="500" y="1675.35">M. redofski L21</text>
<text x="500" y="1688.8">M. petiolaris RS38</text>
<text x="500" y="1702.25">M. stellaris L23</text>
<text x="500" y="1715.7">M. stellaris L24</text>
<text x="500" y="1729.15">M. clusii L11</text>
<text x="500" y="1742.6">M. davidii RS102</text>
<text x="500" y="1756.05">M. gageana L13</text>
<text x="500" y="1769.5">M. pallida RS103</text>
<text x="500" y="1782.95">M. clavistaminea RS101</text>
<text x="500" y="1796.4">M. atrata RS105</text>
<text x="500" y="1809.85">M. melanocentra RS104</text>
<text x="500" y="1823.3">M. melanocentra RS110</text>
<text x="500" y="1836.75">M. divaricata RS109</text>
<text x="500" y="1850.2">M. pseudopallida L20</text>
</g>

<g id="right-labels" class="lb rl">
<text x="1131" y="21">M. nudicaulis L19</text>
<text x="1131" y="34.45">M. nudicaulis RS157</text>
<text x="1131" y="47.9">M. tolmiei RS113</text>
<text x="1131" y="61.35">M. tolmiei RS115</text>
<text x="1131" y="74.8">M. tolmiei RS111</text>
<text x="1131" y="88.25">M. tolmiei RS112</text>
<text x="1131" y="101.7">M. tolmiei RS67</text>
<text x="1131" y="115.15">M. tolmiei RS166</text>
<text x="1131" y="128.6">M. tolmiei L09</text>
<text x="1131" y="142.05">M. tolmiei RS88</text>
<text x="1131" y="155.5">M. tolmiei RS74</text>
<text x="1131" y="168.95">M. tolmiei L10</text>
<text x="1131" y="182.4">M. tolmiei L08</text>
<text x="1131" y="195.85">M. merkii L06</text>
<text x="1131" y="209.3">M. merkii L07</text>
<text x="1131" y="222.75">M. unalaschensis L25</text>
<text x="1131" y="236.2">M. razshivinii RS142</text>
<text x="1131" y="249.65">M. razshivinii RS141</text>
<text x="1131" y="263.1">M. razshivinii RS145</text>
<text x="1131" y="276.55">M. calycina RS152</text>
<text x="1131" y="290">M. calycina RS160</text>
<text x="1131" y="303.45">M. nelsoniana var. carlottae L17</text>
<text x="1131" y="316.9">M. japonica L16</text>
<text x="1131" y="330.35">M. spicata RS153</text>
<text x="1131" y="343.8">M. spicata RS161</text>
<text x="1131" y="357.25">M. nelsoniana var. nelsoniana RS149</text>
<text x="1131" y="370.7">M. nelsoniana var. cascadensis RS168</text>
<text x="1131" y="384.15">M. nelsoniana var. nelsoniana RS147</text>
<text x="1131" y="397.6">M. nelsoniana var. aestivalis RS106</text>
<text x="1131" y="411.05">M. nelsoniana var. porsildiana RS137</text>
<text x="1131" y="424.5">M. manchuriensis RS108</text>
<text x="1131" y="437.95">M. fusca L12</text>
<text x="1131" y="451.4">M. lyallii RS83</text>
<text x="1131" y="464.85">M. lyallii RS143</text>
<text x="1131" y="478.3">M. lyallii RS138</text>
<text x="1131" y="491.75">M. odontoloma RS165</text>
<text x="1131" y="505.2">M. odontoloma RS169</text>
<text x="1131" y="518.65">M. odontoloma RS82</text>
<text x="1131" y="532.1">M. micranthidifolia RS37</text>
<text x="1131" y="545.55">M. micranthidifolia RS34</text>
<text x="1131" y="559">M. reflexa RS134</text>
<text x="1131" y="572.45">M. reflexa RS133</text>
<text x="1131" y="585.9">M. hieracifolia RS159</text>
<text x="1131" y="599.35">M. hieracifolia RS140</text>
<text x="1131" y="612.8">M. pensylvanica RS100</text>
<text x="1131" y="626.25">M. hitchcockiana RS57</text>
<text x="1131" y="639.7">M. oregana RS77</text>
<text x="1131" y="653.15">M. subapetala RS98</text>
<text x="1131" y="666.6">M. subapetala RS97</text>
<text x="1131" y="680.05">M. oregana RS46</text>
<text x="1131" y="693.5">M. oregana RS65</text>
<text x="1131" y="706.95">M. subapetala RS89</text>
<text x="1131" y="720.4">M. palmerii RS125</text>
<text x="1131" y="733.85">M. palmerii RS130</text>
<text x="1131" y="747.3">M. palmerii RS131</text>
<text x="1131" y="760.75">M. palmerii RS126</text>
<text x="1131" y="774.2">M. virginiensis RS39</text>
<text x="1131" y="787.65">M. virginiensis RS132</text>
<text x="1131" y="801.1">M. virginiensis RS129</text>
<text x="1131" y="814.55">M. careyana RS36</text>
<text x="1131" y="828">M. caroliniana RS35</text>
<text x="1131" y="841.45">M. rufopilosa H1</text>
<text x="1131" y="854.9">M. texana RS127</text>
<text x="1131" y="868.35">M. texana RS128</text>
<text x="1131" y="881.8">M. apetala RS84</text>
<text x="1131" y="895.25">M. occidentalis/apetala RS69</text>
<text x="1131" y="908.7">M. rhomboidea RS42</text>
<text x="1131" y="922.15">M. rhomboidea RS79</text>
<text x="1131" y="935.6">M. eriophora RS41</text>
<text x="1131" y="949.05">M. eriophora RS40</text>
<text x="1131" y="962.5">M. tempestiva RS91</text>
<text x="1131" y="975.95">M. tempestiva RS81</text>
<text x="1131" y="989.4">M. tempestiva RS85</text>
<text x="1131" y="1002.85">M. rufidula RS52</text>
<text x="1131" y="1016.3">M. gormanii RS78</text>
<text x="1131" y="1029.75">M. occidentalis RS75</text>
<text x="1131" y="1043.2">M. occidentalis RS95</text>
<text x="1131" y="1056.65">M. idahoensis RS76</text>
<text x="1131" y="1070.1">M. occidentalis RS53</text>
<text x="1131" y="1083.55">M. occidentalis RS55</text>
<text x="1131" y="1097">M. idahoensis RS72</text>
<text x="1131" y="1110.45">M. aprica RS43</text>
<text x="1131" y="1123.9">M. aprica RS45</text>
<text x="1131" y="1137.35">M. integrifolia RS119</text>
<text x="1131" y="1150.8">M. nidifica RS50</text>
<text x="1131" y="1164.25">M. nidifica RS54</text>
<text x="1131" y="1177.7">M. fragosa RS63</text>
<text x="1131" y="1191.15">M. californica RS117</text>
<text x="1131" y="1204.6">M. apetala RS61</text>
<text x="1131" y="1218.05">M. nidifica RS68</text>
<text x="1131" y="1231.5">M. howellii RS116</text>
<text x="1131" y="1244.95">M. occidentalis RS60</text>
<text x="1131" y="1258.4">M. hitchcockiana RS58</text>
<text x="1131" y="1271.85">M. marshallii L26</text>
<text x="1131" y="1285.3">M. californica RS124</text>
<text x="1131" y="1298.75">M. californica RS121</text>
<text x="1131" y="1312.2">M. hieracifolia RS144</text>
<text x="1131" y="1325.65">M. rufidula RS162</text>
<text x="1131" y="1339.1">M. howellii L15</text>
<text x="1131" y="1352.55">M. marshallii RS48</text>
<text x="1131" y="1366">M. tenuis RS151</text>
<text x="1131" y="1379.45">M. nivalis RS150</text>
<text x="1131" y="1392.9">M. tischii RS163</text>
<text x="1131" y="1406.35">M. tischii RS164</text>
<text x="1131" y="1419.8">M. tenuis RS156</text>
<text x="1131" y="1433.25">M. gaspensis L14</text>
<text x="1131" y="1446.7">M. nivalis RS146</text>
<text x="1131" y="1460.15">M. nivalis L18</text>
<text x="1131" y="1473.6">M. ferruginea RS87</text>
<text x="1131" y="1487.05">M. bryophora RS90</text>
<text x="1131" y="1500.5">M. bryophora L05</text>
<text x="1131" y="1513.95">M. bryophora L04</text>
<text x="1131" y="1527.4">M. bryophora L02</text>
<text x="1131" y="1540.85">M. bryophora RS114</text>
<text x="1131" y="1554.3">M. bryophora L03</text>
<text x="1131" y="1567.75">M. bryophora L01</text>
<text x="1131" y="1581.2">M. bryophora RS66</text>
<text x="1131" y="1594.65">M. ferruginea RS167</text>
<text x="1131" y="1608.1">M. ferruginea RS139</text>
<text x="1131" y="1621.55">M. ferruginea RS155</text>
<text x="1131" y="1635">M. laciniata RS107</text>
<text x="1131" y="1648.45">M. foliolosa RS158</text>
<text x="1131" y="1661.9">M. foliolosa RS148</text>
<text x="1131" y="1675.35">M. redofski L21</text>
<text x="1131" y="1688.8">M. petiolaris RS38</text>
<text x="1131" y="1702.25">M. stellaris L23</text>
<text x="1131" y="1715.7">M. stellaris L24</text>
<text x="1131" y="1729.15">M. clusii L11</text>
<text x="1131" y="1742.6">M. davidii RS102</text>
<text x="1131" y="1756.05">M. gageana L13</text>
<text x="1131" y="1769.5">M. pallida RS103</text>
<text x="1131" y="1782.95">M. clavistaminea RS101</text>
<text x="1131" y="1796.4">M. atrata RS105</text>
<text x="1131" y="1809.85">M. melanocentra RS104</text>
<text x="1131" y="1823.3">M. melanocentra RS110</text>
<text x="1131" y="1836.75">M. divaricata RS109</text>
<text x="1131" y="1850.2">M. pseudopallida L20</text>
</g>

<g id="clade-bands" opacity="0.3">
<rect x="834" y="4" width="302" height="206" fill="#f57648"/>
<rect x="834" y="210" width="302" height="309.4" fill="#62cd48"/>
<rect x="834" y="519.4" width="302" height="941.5" fill="#1226de"/>
<rect x="834" y="1460.9" width="302" height="269" fill="#701262"/>
<rect x="834" y="1729.9" width="302" height="120.1" fill="#207d70"/>
</g>

<g id="right-tree" class="br">
<path d="M1137 15H1179M1137 28.45H1179M1179 15V28.45M1179 21.7H1345M1137 41.9H1179M1137 55.35H1179M1137 68.8H1179M1179 41.9V68.8M1179 55.35H1220M1137 82.25H1220M1220 55.35V82.25M1220 68.8H1262M1137 149.5H1179M1137 162.95H1179M1137 176.4H1179M1179 149.5V176.4M1179 162.95H1220M1137 136.05H1220M1220 136.05V162.95M1220 149.5H1262M1137 95.7H1262M1137 122.6H1262M1262 68.8V149.5M1262 109.15H1303M1137 109.15H1303M1137 189.85H1179M1137 203.3H1179M1179 189.85V203.3M1179 196.6H1303M1303 109.15V196.6M1303 152.9H1345M1345 21.7V152.9M1345 87.3H1593"/>
<path d="M1137 216.75H1179M1137 230.2H1179M1137 243.65H1179M1137 257.1H1179M1179 216.75V257.1M1179 236.9H1220M1137 270.55H1220M1137 284H1220M1220 236.9V284M1220 260.45H1262M1137 297.45H1262M1262 260.45V297.45M1262 278.95H1303M1137 324.35H1179M1137 337.8H1179M1179 324.35V337.8M1179 331.1H1220M1137 310.9H1220M1220 310.9V331.1M1220 321H1303M1303 278.95V321M1303 300H1345M1137 351.25H1179M1137 364.7H1179M1179 351.25V364.7M1179 358H1303M1137 391.6H1179M1137 405.05H1179M1137 418.5H1179M1179 391.6V418.5M1179 405.05H1220M1137 378.15H1220M1220 378.15V405.05M1220 391.6H1262M1137 431.95H1262M1262 391.6V431.95M1262 411.8H1303M1303 358V411.8M1303 384.9H1345M1137 445.4H1179M1137 458.85H1179M1179 445.4V458.85M1179 452.1H1220M1137 472.3H1220M1220 452.1V472.3M1220 462.2H1345M1137 485.75H1179M1137 499.2H1179M1137 512.65H1179M1179 485.75V512.65M1179 499.2H1345M1345 300V499.2M1345 399.6H1427"/>
<path d="M1137 526.1H1179M1137 539.55H1179M1179 526.1V539.55M1179 532.8H1386M1137 553H1179M1137 566.45H1179M1179 553V566.45M1179 559.7H1386M1137 579.9H1303M1137 593.35H1303M1137 606.8H1303M1137 620.25H1303M1137 633.7H1179M1137 647.15H1179M1179 633.7V647.15M1179 640.4H1303M1137 660.6H1303M1137 674.05H1303M1137 687.5H1303M1137 700.95H1303M1137 714.4H1303M1137 727.85H1303M1137 741.3H1303M1137 754.75H1303M1137 781.65H1179M1137 795.1H1179M1179 781.65V795.1M1179 788.4H1220M1137 768.2H1220M1220 768.2V788.4M1220 778.3H1262M1137 808.55H1262M1262 778.3V808.55M1262 793.4H1303M1137 822H1303M1137 835.45H1303M1137 848.9H1179M1137 862.35H1179M1179 848.9V862.35M1179 855.6H1303M1137 875.8H1303M1137 889.25H1303M1137 902.7H1303M1137 916.15H1303M1137 943.05H1179M1137 956.5H1179M1137 969.95H1179M1179 943.05V969.95M1179 956.5H1220M1137 929.6H1220M1220 929.6V956.5M1220 943.05H1303M1137 983.4H1303M1137 996.85H1303M1137 1010.3H1303M1137 1023.75H1303M1137 1037.2H1303M1137 1050.65H1303M1137 1064.1H1303M1137 1077.55H1303M1137 1091H1303M1137 1104.45H1179M1137 1117.9H1179M1179 1104.45V1117.9M1179 1111.2H1303M1137 1131.35H1303M1137 1144.8H1303M1137 1158.25H1303M1137 1171.7H1179M1137 1185.15H1179M1179 1171.7V1185.15M1179 1178.4H1303M1137 1198.6H1303M1137 1212.05H1179M1137 1225.5H1179M1179 1212.05V1225.5M1179 1218.8H1303M1137 1238.95H1179M1137 1252.4H1179M1179 1238.95V1252.4M1179 1245.7H1303M1137 1265.85H1303M1303 579.9V1265.85M1303 922.9H1345M1137 1279.3H1179M1137 1292.75H1179M1179 1279.3V1292.75M1179 1286H1345M1345 922.9V1286M1345 1104.5H1386"/>
<path d="M1137 1306.2H1179M1137 1319.65H1179M1137 1333.1H1179M1179 1306.2V1333.1M1179 1319.65H1262M1137 1346.55H1262M1137 1360H1179M1137 1373.45H1179M1179 1360V1373.45M1179 1366.7H1220M1137 1386.9H1179M1137 1400.35H1179M1179 1386.9V1400.35M1179 1393.6H1220M1220 1366.7V1393.6M1220 1380.2H1262M1262 1319.65V1380.2M1262 1349.9H1386M1137 1413.8H1386M1137 1427.25H1179M1137 1440.7H1179M1179 1427.25V1440.7M1179 1434H1386M1137 1454.15H1386M1386 532.8V1454.15M1386 993.5H1427M1427 399.6V993.5M1427 696.55H1469"/>
<path d="M1137 1467.6H1345M1137 1481.05H1262M1137 1494.5H1220M1137 1507.95H1220M1137 1521.4H1220M1137 1534.85H1220M1137 1548.3H1179M1137 1561.75H1179M1179 1548.3V1561.75M1179 1555H1220M1137 1575.2H1220M1220 1494.5V1575.2M1220 1534.85H1262M1262 1481.05V1534.85M1262 1507.95H1303M1137 1588.65H1220M1137 1602.1H1179M1137 1615.55H1179M1179 1602.1V1615.55M1179 1608.8H1220M1220 1588.65V1608.8M1220 1598.7H1303M1303 1507.95V1598.7M1303 1553.3H1345M1137 1629H1179M1137 1642.45H1179M1137 1655.9H1179M1137 1669.35H1179M1179 1629V1669.35M1179 1649.2H1220M1137 1682.8H1220M1220 1649.2V1682.8M1220 1666H1345M1345 1467.6V1666M1345 1566.8H1386M1137 1696.25H1179M1137 1709.7H1179M1179 1696.25V1709.7M1179 1703H1386M1386 1566.8V1703M1386 1634.9H1427M1137 1723.15H1427M1427 1634.9V1723.15M1427 1679H1469M1469 696.55V1679M1469 1187.8H1510"/>
<path d="M1137 1736.6H1345M1137 1750.05H1303M1137 1763.5H1179M1137 1776.95H1179M1179 1763.5V1776.95M1179 1770.2H1262M1137 1790.4H1179M1137 1817.3H1179M1179 1790.4V1817.3M1179 1803.85H1220M1137 1803.85H1220M1137 1830.75H1220M1220 1803.85V1830.75M1220 1817.3H1262M1262 1770.2V1817.3M1262 1793.75H1303M1303 1750.05V1793.75M1303 1771.9H1345M1345 1736.6V1771.9M1345 1754.25H1510M1510 1187.8V1754.25M1510 1471H1551M1137 1844.2H1551M1551 1471V1844.2M1551 1657.6H1592M1592 87.3V1657.6"/>
</g>
</svg>
